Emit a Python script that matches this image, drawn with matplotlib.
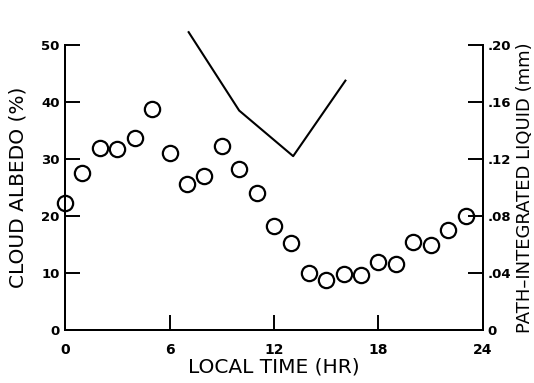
import numpy as np
import matplotlib
matplotlib.use("Agg")
import matplotlib.pyplot as plt

# cloud albedo (%) for each local hour
hours = list(range(24))
albedo = [22.2, 27.5, 31.9, 31.7, 33.7, 38.8, 31.0, 25.7, 27.0, 32.3, 28.3, 24.0,
          18.3, 15.3, 10.0, 8.7, 9.8, 9.6, 12.0, 11.5, 15.5, 14.9, 17.5, 20.0]

# path-integrated liquid (mm)
liq_hours = [7.1, 10.0, 13.1, 16.1]
liquid = [0.209, 0.154, 0.122, 0.175]

left_ticks = [0, 10, 20, 30, 40, 50]
right_ticks = [0, 0.04, 0.08, 0.12, 0.16, 0.20]
right_labels = ["0", ".04", ".08", ".12", ".16", ".20"]
x_ticks = [0, 6, 12, 18, 24]

plt.rcParams["font.family"] = "DejaVu Sans"

fig = plt.figure(figsize=(5.34, 3.83), dpi=100)
ax = fig.add_axes([65 / 534, 53 / 383, 418 / 534, 285 / 383])
ax2 = ax.twinx()

ax.plot(hours, albedo, "o", ms=11, mfc="none", mec="black", mew=1.6, clip_on=False, zorder=3)
ax2.plot(liq_hours, liquid, "-", color="black", lw=1.5, clip_on=False)

ax.set_xlim(0, 24)
ax.set_ylim(0, 50)
ax2.set_ylim(0, 0.20)

for a in (ax, ax2):
    a.spines["top"].set_visible(False)
    for s in a.spines.values():
        s.set_linewidth(1.4)

ax.set_xticks(x_ticks)
ax.set_yticks(left_ticks)
ax2.set_yticks(right_ticks)
ax2.set_yticklabels(right_labels)

ax.tick_params(axis="both", direction="in", length=11, width=1.4, labelsize=10)
ax.tick_params(axis="x", pad=9)
ax.tick_params(axis="y", pad=4, labelsize=9.5)
ax2.tick_params(axis="y", direction="in", length=11, width=1.4, labelsize=9.5, pad=3)

# hide the end ticks that sit on the spines
for t in [ax.xaxis.get_major_ticks()[0], ax.xaxis.get_major_ticks()[-1],
          ax.yaxis.get_major_ticks()[0], ax2.yaxis.get_major_ticks()[0]]:
    t.tick1line.set_visible(False)
    t.tick2line.set_visible(False)

for lab in ax.get_xticklabels() + ax.get_yticklabels() + ax2.get_yticklabels():
    lab.set_fontweight("bold")

ax.set_xlabel("LOCAL TIME (HR)", fontsize=14.5, labelpad=1)
ax.set_ylabel("CLOUD ALBEDO (%)", fontsize=14.5, labelpad=10)
ax2.set_ylabel("PATH\u2013INTEGRATED LIQUID (mm)", fontsize=13, labelpad=4)

fig.savefig("out.png", dpi=100)
